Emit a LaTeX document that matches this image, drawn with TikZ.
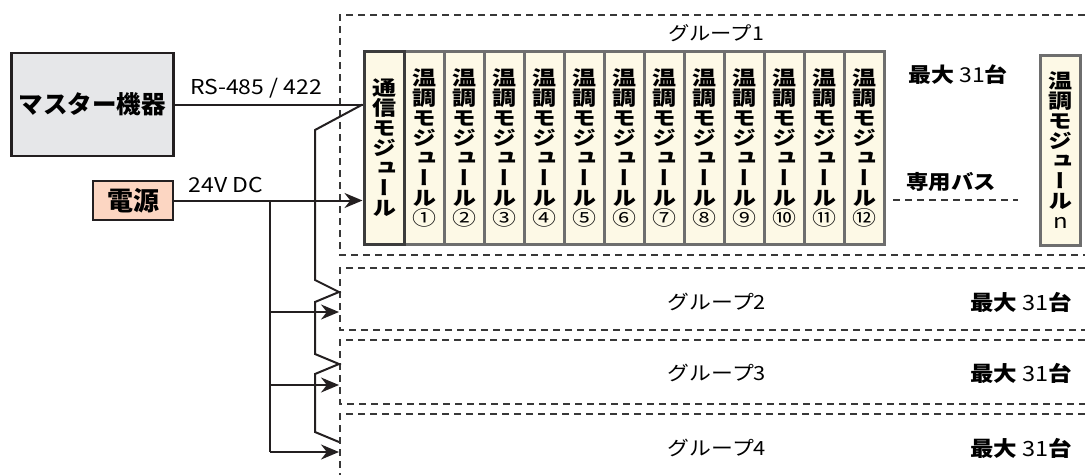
\documentclass[tikz,border=0pt]{standalone}
\usepackage{fontspec}
\setmainfont[FakeStretch=1.12]{Noto Sans CJK JP}
\newfontfamily\jpplain{Noto Sans CJK JP}
\newfontfamily\jpvert[RawFeature=+vert, FakeStretch=1.2]{Noto Sans CJK JP}
\usetikzlibrary{positioning,arrows.meta}
\AtBeginDocument{\lineskiplimit=-\maxdimen}

\definecolor{mastergray}{HTML}{E6E7E9}
\definecolor{powerpeach}{HTML}{FCD6C2}
\definecolor{modcream}{HTML}{FDF9E6}
\definecolor{modedge}{HTML}{6E6E6E}
\definecolor{commedge}{HTML}{3C3C3C}
\definecolor{ink}{HTML}{231F20}
\definecolor{dashink}{HTML}{383838}

\newcommand{\circnum}[1]{{\mdseries\char\numexpr"245F+#1\relax}}

\tikzset{
  conn/.style={line width=2pt, draw=ink},
  feedarrow/.style={-{Stealth[length=18pt,width=15pt]}},
  grpline/.style={line width=1.8pt, draw=dashink, dash pattern=on 7pt off 5pt},
  masterbox/.style={draw=ink, line width=2.5pt, fill=mastergray, minimum width=162pt,
    minimum height=103pt, inner sep=0pt, font=\jpplain\bfseries\fontsize{24.5}{25}\selectfont},
  powerbox/.style={draw=ink, line width=2pt, fill=powerpeach, minimum width=80pt,
    minimum height=39pt, inner sep=0pt, font=\jpplain\bfseries\fontsize{26}{27}\selectfont},
  tempmod/.style={draw=modedge, line width=3pt, fill=modcream, minimum width=40pt,
    minimum height=193pt, inner sep=0pt, align=center,
    font=\jpvert\bfseries\fontsize{20}{20}\selectfont},
  commmod/.style={tempmod, draw=commedge},
  wirelbl/.style={inner sep=0pt, font=\fontsize{20.5}{21}\selectfont},
  grplbl/.style={inner sep=0pt, font=\fontsize{19}{20}\selectfont},
  maxlbl/.style={inner sep=0pt, font=\fontsize{20.5}{21}\selectfont}
}

\begin{document}
\begin{tikzpicture}[x=1pt,y=-1pt]
    \useasboundingbox (0,0) rectangle (1085,475);

    % Groups
    \draw[grpline] (1085,15) -- (340,15) -- (340,255) -- (1085,255);
    \foreach \gtop/\gbot in {268/330, 340/404}
        \draw[grpline] (1085,\gtop) -- (340,\gtop) -- (340,\gbot) -- (1085,\gbot);
    \draw[grpline] (1085,414) -- (340,414) -- (340,475);

    % Modules
    \foreach \i in {1,...,12}
        \node[tempmod] (tm\i) at ({384+40*\i},148) {温\\調\\モ\\ジ\\ュ\\ー\\ル\\\circnum{\i}};
    \node[commmod] (comm) at (384,148) {通\\信\\モ\\ジ\\ュ\\ー\\ル};
    \node[tempmod, minimum height=190pt] (tmn) at (1060.5,150.5) {温\\調\\モ\\ジ\\ュ\\ー\\ル\\{\mdseries n}};

    % Bus
    \coordinate (busl) at (893,200);
    \coordinate (busr) at (1018,200);
    \draw[grpline] (busl) -- (busr);
    \node[maxlbl, font=\bfseries\fontsize{20}{21}\selectfont] (buslbl) at (951,182) {専用バス};

    % Labels
    \node[grplbl] (g1lbl) at (716,33) {グループ1};
    \node[maxlbl] (g1max) at (958,75) {\textbf{最大} 31\textbf{台}};
    \foreach \g/\gy in {2/302, 3/373, 4/448} {
        \node[grplbl, font=\fontsize{19.5}{20}\selectfont] (g\g lbl) at (717,\gy) {グループ\g};
        \node[maxlbl, font=\fontsize{21}{22}\selectfont] (g\g max) at (1021,\gy) {\textbf{最大} 31\textbf{台}};
    }

    % Master and power
    \node[masterbox] (master) at (92.5,104.5) {マスター機器};
    \node[powerbox] (power) at (133,200.5) {電源};

    % RS-485 / 422 line
    \coordinate (rsin) at (comm.west |- master.east);
    \draw[conn] (master.east) -- (rsin);
    \node[wirelbl] (rslbl) at (256,88) {RS-485 / 422};
    \draw[conn] (rsin) -- (315,130) -- (315,280) -- (339,292) -- (315,302)
        -- (315,354) -- (339,364) -- (315,374) -- (315,432) -- (339,442);

    % 24V DC line
    \draw[conn, feedarrow] (power.east) -- (comm.west |- power.east);
    \node[wirelbl] (dclbl) at (226,185) {24V DC};
    \coordinate (pwbus) at (270,200.5);
    \coordinate (g2pw) at (339,312);
    \coordinate (g3pw) at (339,385);
    \coordinate (g4pw) at (339,452);
    \draw[conn] (pwbus) -- (pwbus |- g4pw);
    \foreach \g in {2,3,4}
        \draw[conn, feedarrow] (pwbus |- g\g pw) -- (g\g pw);
\end{tikzpicture}
\end{document}
